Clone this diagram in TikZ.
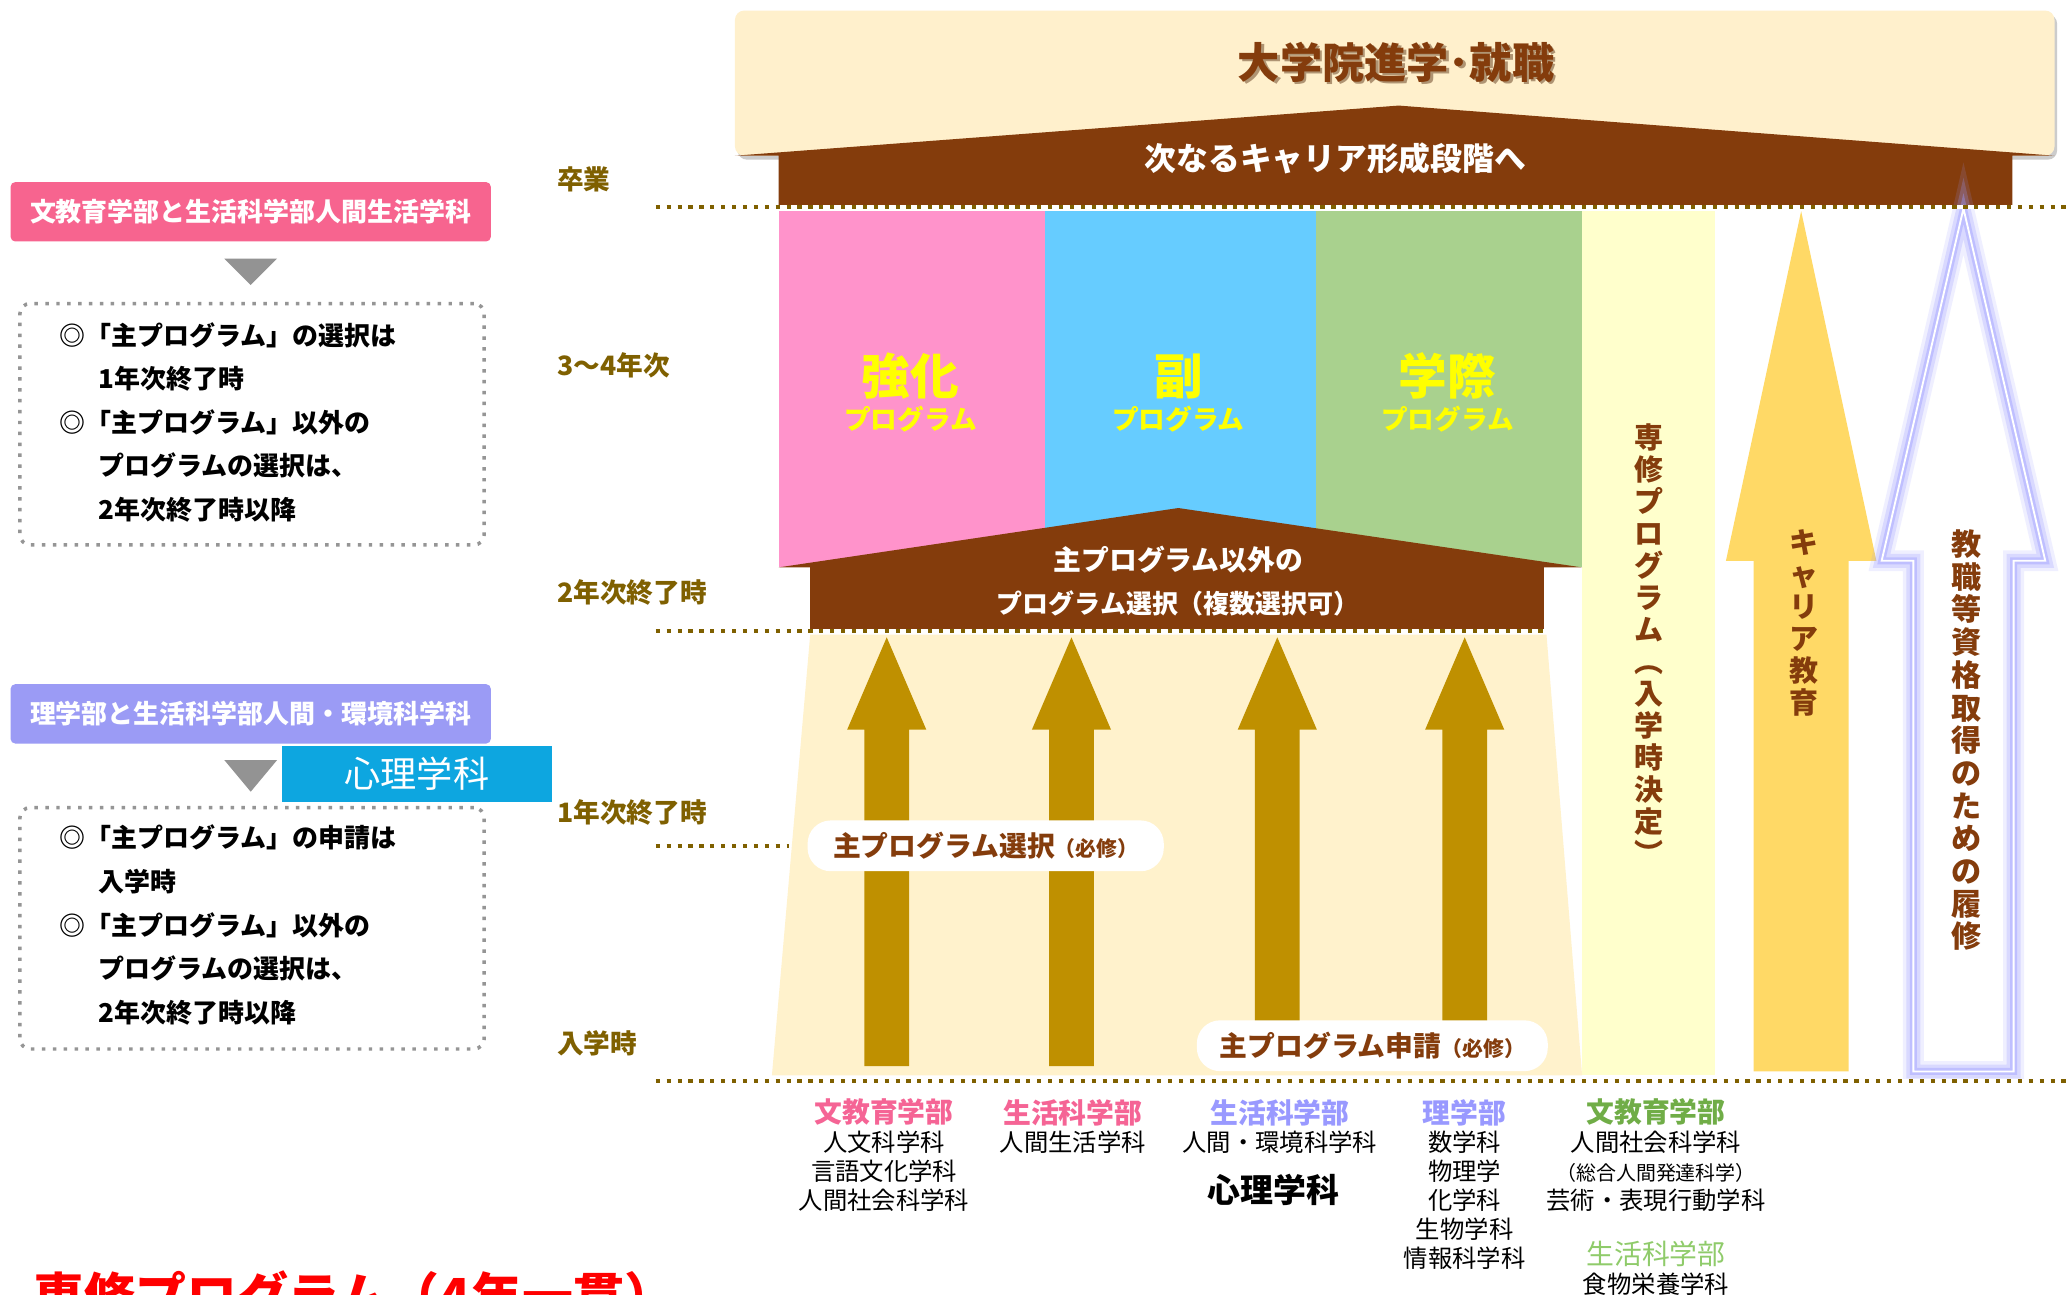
\documentclass[tikz,border=0pt]{standalone}
\usepackage{fontspec}
\setmainfont{Noto Sans CJK JP}
\usetikzlibrary{scopes}

\definecolor{timeolive}{HTML}{7F6000}
\definecolor{roofbrown}{HTML}{843C0C}
\definecolor{bannercream}{HTML}{FFF0CC}
\definecolor{creamlow}{HTML}{FFF2CC}
\definecolor{pinkhead}{HTML}{F7648F}
\definecolor{purplehead}{HTML}{9B9BF5}
\definecolor{psychblue}{HTML}{0DA6E0}
\definecolor{notegray}{HTML}{959595}
\definecolor{progpink}{HTML}{FF93CB}
\definecolor{progblue}{HTML}{66CCFF}
\definecolor{proggreen}{HTML}{A9D18E}
\definecolor{progyellow}{HTML}{FFFF00}
\definecolor{senshu}{HTML}{FFFFCC}
\definecolor{goldarr}{HTML}{BF9000}
\definecolor{careerarr}{HTML}{FFD966}
\definecolor{glowblue}{HTML}{9999FF}
\definecolor{facpink}{HTML}{F56495}
\definecolor{faclav}{HTML}{9999FF}
\definecolor{facgreen}{HTML}{70AD47}
\definecolor{facgreenlt}{HTML}{8FCB6A}

\newcommand{\fsize}[2]{\fontsize{#1}{#2}\selectfont}
% up arrow: [style] x, tip y, head base y, bottom y, head half width, shaft half width
\newcommand{\uparr}[7][]{%
  \path[#1] (#2,#3) -- ({#2+#6},#4) -- ({#2+#7},#4) -- ({#2+#7},#5)
    -- ({#2-#7},#5) -- ({#2-#7},#4) -- ({#2-#6},#4) -- cycle;}

\begin{document}
\begin{tikzpicture}[x=0.02cm, y=-0.02cm,
      every node/.style={inner sep=0pt},
      timelbl/.style={anchor=west, text=timeolive, font=\bfseries\fsize{11.5pt}{13pt}},
      dotline/.style={draw=timeolive, line width=1.8pt, dash pattern=on 1.8pt off 2.9pt},
      gapline/.style={draw=white, line width=1.8pt},
      notebox/.style={draw=notegray, line width=1.5pt, dash pattern=on 1.5pt off 3.2pt,
                      rounded corners=4.5pt, minimum width=7.04cm, minimum height=3.66cm},
      note/.style={anchor=north west, align=left, font=\bfseries\fsize{11.2pt}{18.8pt}},
      hdr/.style={text=white, rounded corners=2pt, minimum width=7.28cm,
                  minimum height=0.9cm, font=\bfseries\fsize{11.2pt}{13pt}},
      prog/.style={text=progyellow, font=\bfseries\fsize{21pt}{24pt}},
      progsub/.style={text=progyellow, font=\bfseries\fsize{11.5pt}{13pt}},
      roof/.style={fill=roofbrown},
      rooftxt/.style={text=white, font=\bfseries\fsize{12pt}{14pt}},
      pill/.style={fill=white, rounded corners=10pt, minimum height=0.77cm,
                   text=roofbrown, font=\bfseries\fsize{12pt}{14pt}},
      vtxt/.style={align=center, text=roofbrown, font=\bfseries\fsize{12.5pt}{13.8pt}},
      fac/.style={font=\bfseries\fsize{12pt}{14pt}},
      dept/.style={anchor=north, align=center, font=\fsize{10.5pt}{12.5pt}}
]
      \useasboundingbox[fill=white] (0,0) rectangle (1568,981);

      % left side: pink group
      \node[hdr, fill=pinkhead] (hdrA) at (190,160.5) {文教育学部と生活科学部人間生活学科};
      \fill[gray!85] (170,196) -- ++(40,0) -- ++(-20,20) -- cycle;
      \node[notebox] (boxA) at (191,321.5) {};
      \node[note] (noteA) at (45,244) {◎「主プログラム」の選択は\\
            \hspace*{1.5em}1年次終了時\\
            ◎「主プログラム」以外の\\
            \hspace*{1.5em}プログラムの選択は、\\
            \hspace*{1.5em}2年次終了時以降};

      % left side: purple group
      \node[hdr, fill=purplehead] (hdrB) at (190,541) {理学部と生活科学部人間・環境科学科};
      \fill[gray!85] (170,576) -- ++(40,0) -- ++(-20,24) -- cycle;
      \node[fill=psychblue, text=white, minimum width=4.08cm, minimum height=0.86cm,
            font=\fsize{15.6pt}{18pt}] (psychA) at (316,586.5) {心理学科};
      \node[notebox] (boxB) at (191,703.5) {};
      \node[note] (noteB) at (45,625) {◎「主プログラム」の申請は\\
            \hspace*{1.5em}入学時\\
            ◎「主プログラム」以外の\\
            \hspace*{1.5em}プログラムの選択は、\\
            \hspace*{1.5em}2年次終了時以降};

      % time axis labels
      \node[timelbl] (tGrad) at (422,136) {卒業};
      \node[timelbl] (tY34) at (422,277) {3～4年次};
      \node[timelbl] (tY2) at (422,449) {2年次終了時};
      \node[timelbl] (tY1) at (422,616) {1年次終了時};
      \node[timelbl] (tAdm) at (422,791) {入学時};

      % top banner
      \fill[black!20, rounded corners=4pt] (559,11) rectangle (1559,121);
      \fill[bannercream, rounded corners=4pt] (557,8) rectangle (1557,118);
      \fill[roof] (557,118) -- (1060,80) -- (1557,118) -- (1525,118) -- (1525,157)
            -- (590,157) -- (590,118) -- cycle;
      \node[text=roofbrown!60!black, opacity=.45, font=\bfseries\fsize{18.2pt}{20pt}]
            (titleSh) at (1060,49) {大学院進学･就職};
      \node[text=roofbrown, font=\bfseries\fsize{18.2pt}{20pt}] (title) at (1058,47) {大学院進学･就職};
      \node[rooftxt, font=\bfseries\fsize{13.7pt}{15pt}] (next) at (1012,120) {次なるキャリア形成段階へ};

      % program columns
      \fill[progpink] (590,160) rectangle (792,430);
      \fill[progblue] (792,160) rectangle (997,430);
      \fill[proggreen] (997,160) rectangle (1199,430);
      \fill[senshu] (1199,160) rectangle (1300,815);
      \node[prog] (kyoka) at (690,285) {強化};
      \node[progsub] (kyokaP) at (690,318) {プログラム};
      \node[prog] (fuku) at (893,285) {副};
      \node[progsub] (fukuP) at (893,318) {プログラム};
      \node[prog] (gakusai) at (1097,285) {学際};
      \node[progsub] (gakusaiP) at (1097,318) {プログラム};

      % lower roof and years 1-2
      \fill[roof] (590,430) -- (893,385) -- (1199,430) -- (1170,430) -- (1170,478)
            -- (614,478) -- (614,430) -- cycle;
      \node[rooftxt] (other1) at (893,424) {主プログラム以外の};
      \node[rooftxt, font=\bfseries\fsize{11.2pt}{13pt}] (other2) at (893,457) {プログラム選択（複数選択可）};
      \fill[creamlow] (614,481) -- (1172,481) -- (1199,815) -- (585,815) -- cycle;

      {[fill=goldarr]
          \uparr[fill=goldarr]{672}{483}{553}{808}{30}{17}
          \uparr[fill=goldarr]{812}{483}{553}{808}{30}{17}
          \uparr[fill=goldarr]{968}{483}{553}{775}{30}{17}
          \uparr[fill=goldarr]{1110}{483}{553}{775}{30}{17}
      }
      \node[pill, minimum width=5.4cm] (selMain) at (747,641)
            {主プログラム選択{\fsize{9pt}{10pt}（必修）}};
      \node[pill, minimum width=5.32cm] (appMain) at (1040,792.5)
            {主プログラム申請{\fsize{9pt}{10pt}（必修）}};

      % career and licence arrows
      \uparr[fill=careerarr]{1365}{160}{425}{812}{57}{36}
      \uparr[fill=white]{1488}{158}{425}{812}{62}{38}
      \uparr[draw=glowblue, line width=9pt, opacity=.15]{1488}{158}{425}{812}{62}{38}
      \uparr[draw=glowblue, line width=6pt, opacity=.25]{1488}{158}{425}{812}{62}{38}
      \uparr[draw=glowblue, line width=3pt, opacity=.4]{1488}{158}{425}{812}{62}{38}
      \uparr[draw=white, line width=.8pt]{1488}{158}{425}{812}{62}{38}

      \node[vtxt] (senshuTxt) at (1250,488) {専\\修\\プ\\ロ\\グ\\ラ\\ム\\︵\\入\\学\\時\\決\\定\\︶};
      \node[vtxt] (careerTxt) at (1367,472) {キ\\ャ\\リ\\ア\\教\\育};
      \node[vtxt, font=\bfseries\fsize{13pt}{14.1pt}] (licTxt) at (1490,561)
            {教\\職\\等\\資\\格\\取\\得\\の\\た\\め\\の\\履\\修};

      % dotted time lines
      \draw[gapline] (497,157) -- (1568,157);
      \draw[dotline] (497,157) -- (1568,157);
      \draw[gapline] (497,478) -- (1172,478);
      \draw[dotline] (497,478) -- (1172,478);
      \draw[dotline] (497,641) -- (598,641);
      \draw[gapline] (497,819) -- (1568,819);
      \draw[dotline] (497,819) -- (1568,819);

      % faculties and departments
      \node[fac, text=facpink] (fBun) at (670,843) {文教育学部};
      \node[dept] (dBun) at (670,857) {人文科学科\\言語文化学科\\人間社会科学科};
      \node[fac, text=facpink] (fSei) at (813,843) {生活科学部};
      \node[dept] (dSei) at (813,857) {人間生活学科};
      \node[fac, text=faclav] (fSeiB) at (970,843) {生活科学部};
      \node[dept] (dSeiB) at (970,857) {人間・環境科学科};
      \node[font=\bfseries\fsize{14.2pt}{16pt}] (dPsych) at (965,902) {心理学科};
      \node[fac, text=faclav] (fRi) at (1110,843) {理学部};
      \node[dept] (dRi) at (1110,857) {数学科\\物理学\\化学科\\生物学科\\情報科学科};
      \node[fac, text=facgreen] (fBunC) at (1255,843) {文教育学部};
      \node[dept] (dBunC) at (1255,857) {人間社会科学科\\{\fsize{8.6pt}{12.5pt}（総合人間発達科学）}\\芸術・表現行動学科};
      \node[fac, text=facgreenlt, font=\fsize{12pt}{14pt}] (fSeiC) at (1255,950) {生活科学部};
      \node[dept] (dSeiC) at (1255,964) {食物栄養学科};

      \node[anchor=base west, text=red, font=\bfseries\fsize{22pt}{24pt}] (senshu4) at (25,997)
            {専修プログラム（4年一貫）};
\end{tikzpicture}
\end{document}
